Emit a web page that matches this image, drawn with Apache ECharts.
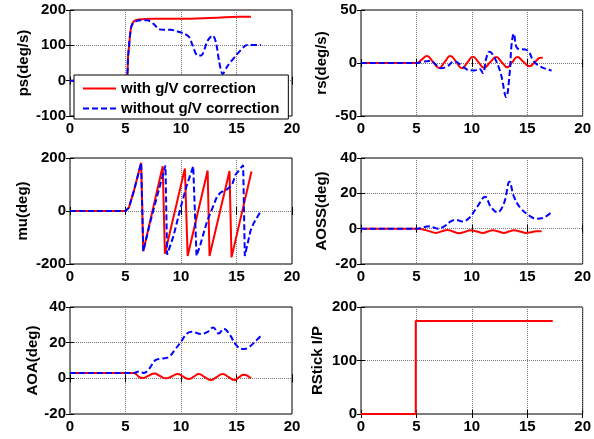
<!DOCTYPE html>
<html>
<head>
<meta charset="utf-8">
<script src="https://cdn.jsdelivr.net/npm/echarts@6/dist/echarts.min.js"></script>
<style>
  html, body { margin: 0; padding: 0; background: #fff; }
  #main { width: 594px; height: 439px; }
</style>
</head>
<body>
<div id="main"></div>
<script>
// panel setup
var panelNames = ['ps(deg/s)', 'rs(deg/s)', 'mu(deg)', 'AOSS(deg)', 'AOA(deg)', 'RStick I/P'];
var yMins = [-100, -50, -200, -20, -20, 0];
var yMaxs = [200, 50, 200, 40, 40, 200];
var ySteps = [100, 50, 200, 20, 20, 100];
var xMin = 0, xMax = 20, xStep = 5;
var nameWith = 'with g/V correction';
var nameWithout = 'without g/V correction';

// ps
var psWithT = [0, 5, 5.25, 5.5, 5.75, 6.2, 7.5, 10, 12, 13.3, 15.1, 16.3];
var psWithV = [0, 0, 75, 150, 168, 173, 175, 175, 177, 178, 181, 181];
var psWithoutT = [0, 5, 5.25, 5.5, 5.75, 6.2, 6.95, 7.55, 8.0, 8.5, 9.1, 9.7, 10.3, 10.75, 11.05, 11.5, 11.8, 12.4, 12.85, 13.15, 13.45, 13.75, 14.2, 14.95, 15.7, 16.0, 17.2];
var psWithoutV = [0, 0, 75, 150, 165, 170, 171, 160, 146, 144, 144, 139, 133, 123, 99, 71, 71, 113, 128, 108, 52, 19, 42, 71, 97, 101, 101];

// rs
var rsWithT = [0, 5, 5.45, 5.95, 6.5, 7.05, 7.55, 8.05, 8.6, 9.1, 9.6, 10.1, 10.6, 11.1, 11.65, 12.2, 12.7, 13.2, 13.65, 14.1, 14.65, 15.2, 15.7, 16.2, 16.4];
var rsWithV = [0, 0, 3, 6.6, 1, -4.7, 1, 6.7, 1, -5, 0.5, 6, 0.8, -4.5, 0.6, 5.6, 0.8, -4, 0.8, 5.6, 1.2, -3, 1, 5, 5];
var rsWithoutT = [0, 5, 5.5, 6.15, 6.6, 7.2, 7.8, 8.4, 9, 9.6, 10.2, 10.7, 11, 11.3, 11.6, 12, 12.6, 13.1, 13.4, 13.6, 13.8, 14.1, 15, 15.6, 16.2, 17.0, 17.2];
var rsWithoutV = [0, 0, 1, 2, 0, -5, -3, 1.5, -1.6, -6.3, -7, -5.7, -9.5, 4.4, 10.7, 6, -9.5, -32, -11, 18.9, 27.7, 13.9, 12, 1.3, -3.5, -6.6, -7];

// mu
var muWithT = [0, 5, 5.3, 5.75, 6.41, 6.6, 8.35, 8.55, 10.35, 10.6, 12.4, 12.57, 14.37, 14.55, 16.35];
var muWithV = [0, 0, 12, 75, 182, -152, 169, -161, 160, -170, 153, -170, 151, -175, 149];
var muWithoutT = [0, 5, 5.3, 5.75, 6.41, 6.6, 7.25, 7.85, 8.6, 8.75, 9.32, 9.92, 10.5, 11.1, 11.4, 11.75, 12.35, 12.96, 13.25, 13.55, 14.15, 14.6, 14.9, 15.6, 15.75, 16.26, 16.56, 17.2];
var muWithoutV = [0, 0, 12, 75, 182, -152, -38, 56, 172, -165, -95, 5, 94, 169, -170, -126, -38, 24, 56, 69, 82, 98, 136, 173, -170, -75, -45, 0];

// AOSS
var aossWithT = [0, 5, 5.7, 6.2, 6.75, 7.3, 7.8, 8.3, 8.85, 9.4, 9.9, 10.45, 11, 11.45, 11.9, 12.4, 12.9, 13.35, 13.8, 14.35, 14.9, 15.35, 15.8, 16.3];
var aossWithV = [0, 0, -0.6, -1.5, -2.4, -1.5, -0.7, -1.6, -2.6, -1.7, -0.9, -1.6, -2.4, -1.6, -0.9, -1.6, -2.4, -1.6, -0.9, -1.6, -2.4, -2, -1.5, -1.5];
var aossWithoutT = [0, 5, 5.7, 6.1, 6.5, 6.9, 7.5, 8.1, 8.55, 9.15, 9.75, 10.5, 11.2, 11.7, 12.3, 12.9, 13.4, 13.8, 14.4, 15.3, 15.8, 16.4, 17.2];
var aossWithoutV = [0, 0, 0.9, 1.3, 0.8, 0, 1.3, 4.1, 5, 4.1, 6, 12.5, 18.1, 12.5, 9.2, 14.4, 26.5, 18.1, 11.6, 6.9, 5.6, 6, 9.5];

// AOA
var aoaWithT = [0, 5.6, 5.75, 6.3, 6.6, 7.05, 7.6, 8.1, 8.65, 9.2, 9.7, 10.2, 10.7, 11.15, 11.6, 12.15, 12.7, 13.2, 13.75, 14.3, 14.8, 15.2, 15.65, 16.3];
var aoaWithV = [3, 3, 3, 0.5, 0.2, 1.4, 2.7, 1.3, 0, 1.2, 2.4, 1, -0.4, 1, 2.4, 0.7, -1, 0.7, 2.4, 0.7, -1, 0.5, 2, 0];
var aoaWithoutT = [0, 5.6, 5.75, 6.2, 6.65, 7.1, 7.7, 8.3, 8.9, 9.5, 9.95, 10.55, 11, 11.8, 12.4, 12.9, 13.4, 13.85, 14.45, 14.9, 15.5, 16, 16.6, 17.2];
var aoaWithoutV = [3, 3, 3, 3.8, 3, 5.1, 10.2, 11.1, 12, 16.4, 20.1, 25.2, 26.1, 24.8, 26.1, 28.5, 25.2, 27.8, 23.9, 19.2, 16.4, 17, 20.1, 23.9];

// RStick
var stickT = [0, 4.94, 4.94, 17.3];
var stickV = [0, 0, 174, 174];

function pairs(t, v) {
  return t.map(function (x, i) { return [x, v[i]]; });
}

var FONT = 'Liberation Sans, Arial, sans-serif';
var grids = [
  { left: 70, top: 10, width: 222, height: 106 },
  { left: 361, top: 10, width: 222, height: 106 },
  { left: 70, top: 158, width: 222, height: 106 },
  { left: 361, top: 158, width: 222, height: 106 },
  { left: 70, top: 307, width: 222, height: 107 },
  { left: 361, top: 307, width: 222, height: 107 }
];
var nameGaps = [39, 32, 40, 32, 30, 36];

var xAxes = [], yAxes = [];
grids.forEach(function (g, i) {
  g.show = true;
  g.borderColor = '#000';
  g.borderWidth = 1;
  g.backgroundColor = '#fff';
  xAxes.push({
    type: 'value', gridIndex: i, min: xMin, max: xMax, interval: xStep,
    axisLine: { show: false },
    axisTick: { show: true, inside: true, length: 4, lineStyle: { color: '#000' } },
    axisLabel: { fontFamily: FONT, fontWeight: 'bold', fontSize: 15, color: '#000', margin: 5 },
    splitLine: { show: true, lineStyle: { color: '#777', type: [1, 1], width: 1 } }
  });
  xAxes.push({
    type: 'value', gridIndex: i, min: xMin, max: xMax, interval: xStep, position: 'top',
    axisLine: { show: false },
    axisTick: { show: true, inside: true, length: 4, lineStyle: { color: '#000' } },
    axisLabel: { show: false }, splitLine: { show: false }
  });
  yAxes.push({
    type: 'value', gridIndex: i, min: yMins[i], max: yMaxs[i], interval: ySteps[i],
    name: panelNames[i], nameLocation: 'middle', nameGap: nameGaps[i], nameRotate: 90,
    nameTextStyle: { fontFamily: FONT, fontWeight: 'bold', fontSize: 15, color: '#000' },
    axisLine: { show: false },
    axisTick: { show: true, inside: true, length: 4, lineStyle: { color: '#000' } },
    axisLabel: { fontFamily: FONT, fontWeight: 'bold', fontSize: 15, color: '#000', margin: 4 },
    splitLine: { show: true, lineStyle: { color: '#777', type: [1, 1], width: 1 } }
  });
  yAxes.push({
    type: 'value', gridIndex: i, min: yMins[i], max: yMaxs[i], interval: ySteps[i], position: 'right',
    axisLine: { show: false },
    axisTick: { show: true, inside: true, length: 4, lineStyle: { color: '#000' } },
    axisLabel: { show: false }, splitLine: { show: false }
  });
});

function line(name, idx, t, v, color, dashed, smooth) {
  return {
    name: name, type: 'line', xAxisIndex: idx * 2, yAxisIndex: idx * 2,
    data: pairs(t, v), symbol: 'none', smooth: smooth, animation: false,
    lineStyle: { color: color, width: 2, type: dashed ? [6, 3] : 'solid' },
    itemStyle: { color: color }
  };
}

var RED = '#ff0000', BLUE = '#0000ff';
var series = [
  line(nameWith, 0, psWithT, psWithV, RED, false, 0.3),
  line(nameWithout, 0, psWithoutT, psWithoutV, BLUE, true, 0.3),
  line(nameWith, 1, rsWithT, rsWithV, RED, false, 0.5),
  line(nameWithout, 1, rsWithoutT, rsWithoutV, BLUE, true, 0.4),
  line(nameWith, 2, muWithT, muWithV, RED, false, false),
  line(nameWithout, 2, muWithoutT, muWithoutV, BLUE, true, false),
  line(nameWith, 3, aossWithT, aossWithV, RED, false, 0.5),
  line(nameWithout, 3, aossWithoutT, aossWithoutV, BLUE, true, 0.4),
  line(nameWith, 4, aoaWithT, aoaWithV, RED, false, 0.5),
  line(nameWithout, 4, aoaWithoutT, aoaWithoutV, BLUE, true, 0.4),
  line(nameWith, 5, stickT, stickV, RED, false, false)
];

var chart = echarts.init(document.getElementById('main'), null, { renderer: 'canvas' });
chart.setOption({
  animation: false,
  grid: grids,
  xAxis: xAxes,
  yAxis: yAxes,
  legend: {
    data: [nameWith, nameWithout],
    orient: 'vertical', left: 74, top: 75,
    backgroundColor: '#fff', borderColor: '#000', borderWidth: 1,
    padding: [6, 9, 3, 8], itemGap: 5, itemWidth: 33, itemHeight: 14,
    itemStyle: { opacity: 0 },
    textStyle: { fontFamily: FONT, fontWeight: 'bold', fontSize: 15, color: '#000' },
    selectedMode: false, z: 10
  },
  series: series
});
</script>
</body>
</html>
